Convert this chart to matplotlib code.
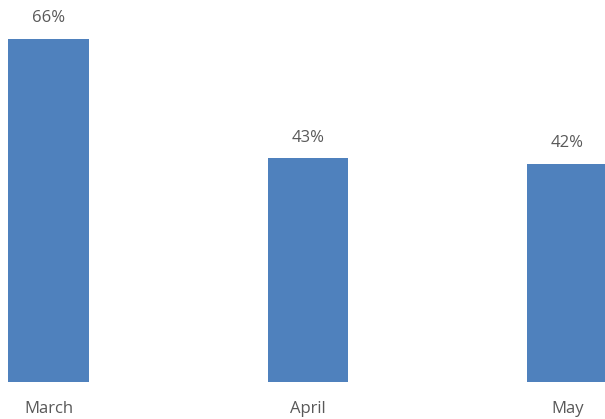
import matplotlib.pyplot as plt

months = ['March', 'April', 'May']
values = [66, 43, 42]

plt.rcParams['font.family'] = ['Open Sans', 'DejaVu Sans']

fig = plt.figure(figsize=(6.05, 4.19), dpi=100)
ax = fig.add_axes([0, 37 / 419, 1, 382 / 419])

x = list(range(len(months)))
bars = ax.bar(x, values, width=0.312, color='#4F81BD')

# 数值标签
for xi, v in zip(x, values):
    ax.annotate(f'{v}%', (xi, v), xytext=(0, 9), textcoords='offset points',
                ha='center', va='bottom', fontsize=12, color='#595959')

ax.set_xlim(-0.187, 2.1445)
ax.set_ylim(0, 73.46)
ax.set_xticks(x)
ax.set_xticklabels(months, fontsize=12, color='#595959')
ax.tick_params(axis='x', length=0, pad=14)
ax.set_yticks([])
for s in ax.spines.values():
    s.set_visible(False)

fig.savefig('out.png', dpi=100)
